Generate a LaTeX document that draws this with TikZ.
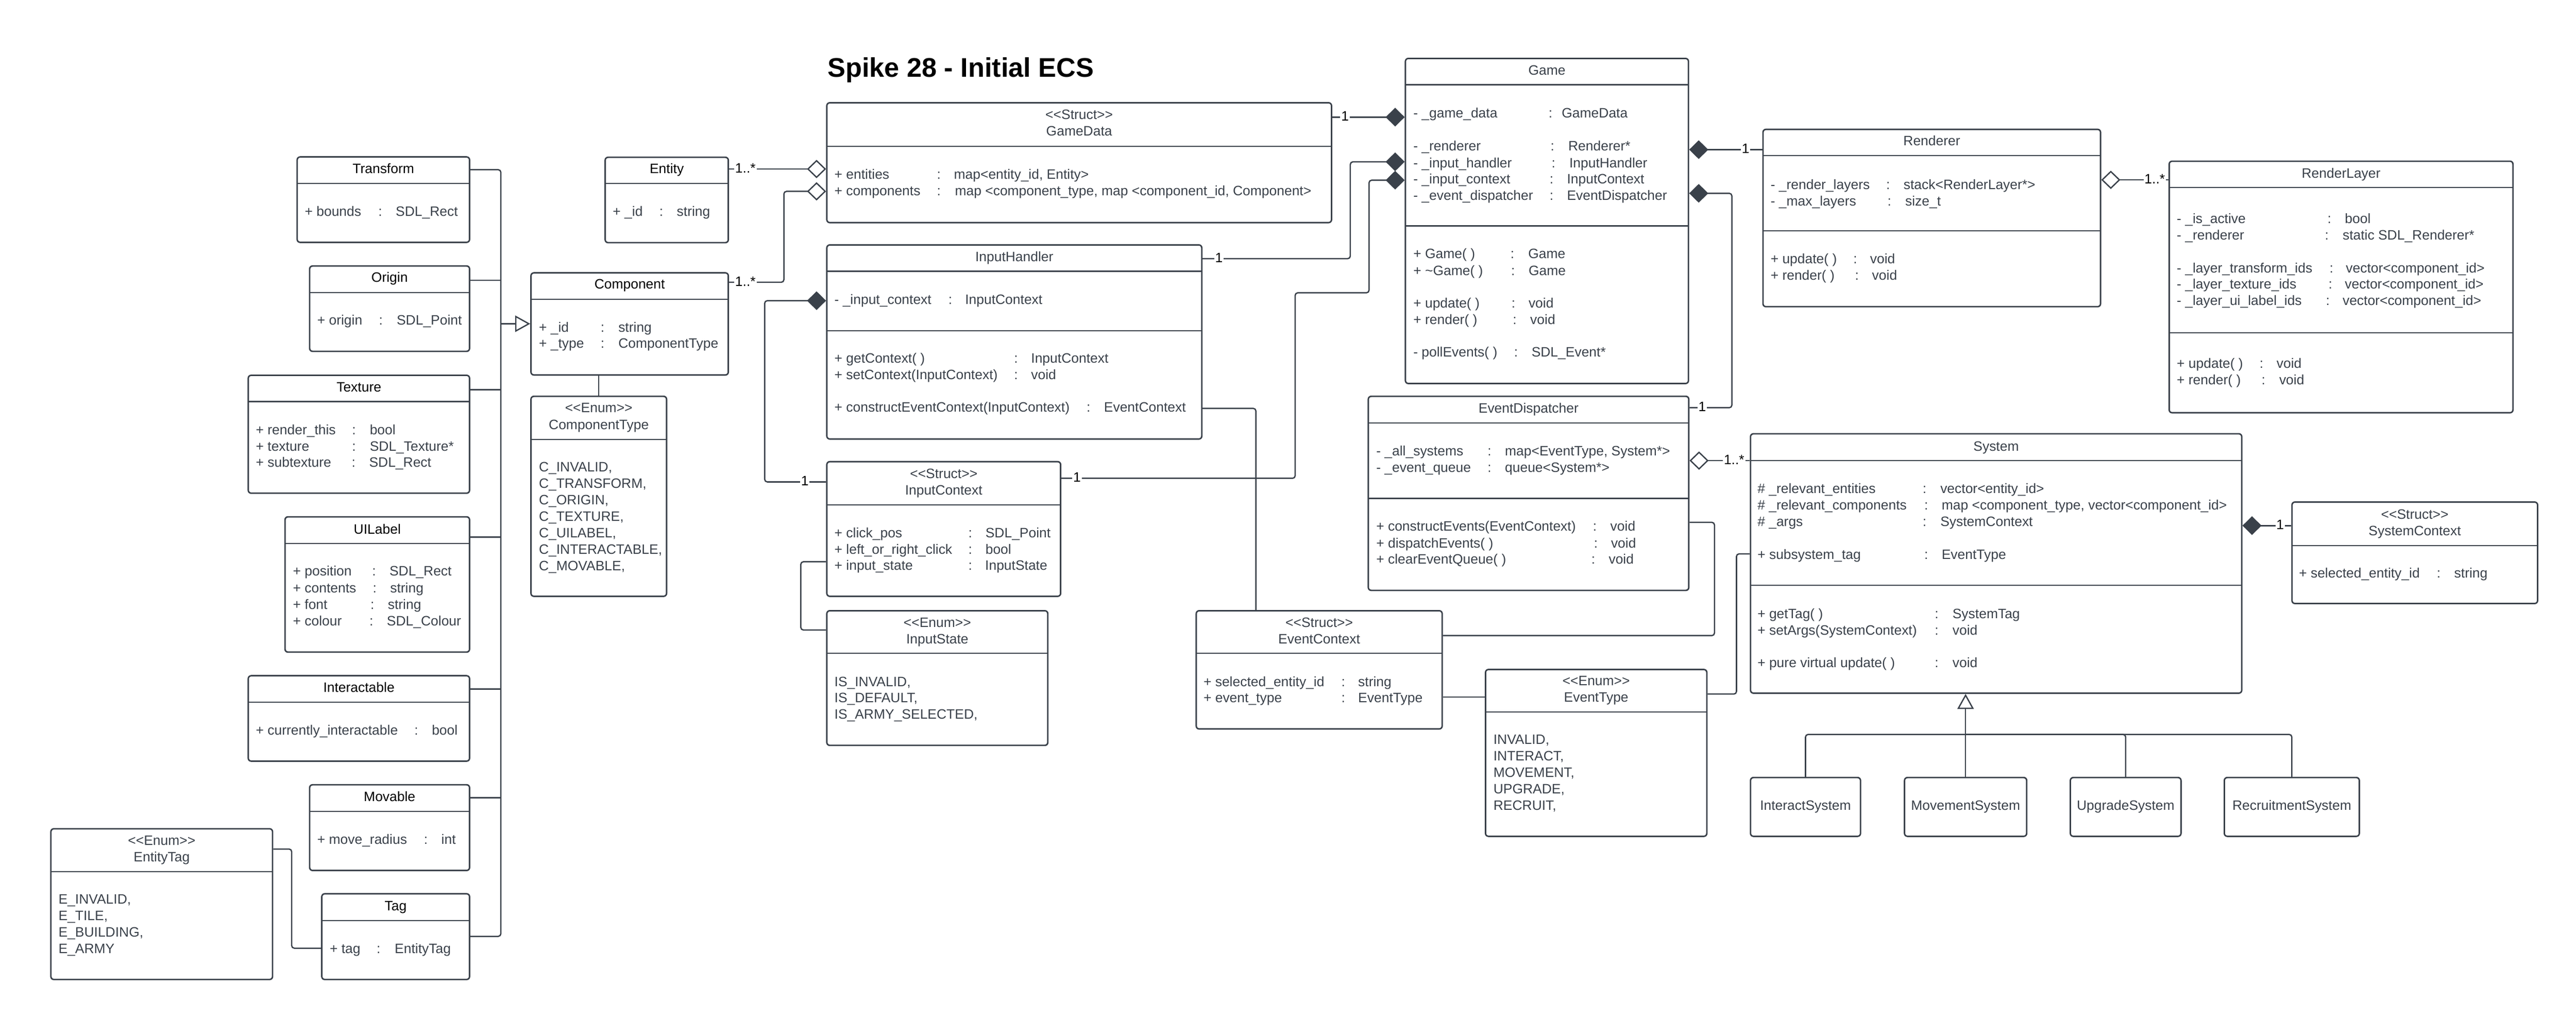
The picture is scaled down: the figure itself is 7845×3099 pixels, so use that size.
\documentclass[tikz,border=0pt]{standalone}
\usepackage{fontspec}
\newfontfamily\lfont{Liberation Sans}
\usetikzlibrary{fit,calc,arrows.meta}
\definecolor{lc}{HTML}{3A414A}
\newcommand\fs{\lfont\fontsize{41.5pt}{50pt}\selectfont}
\newcounter{tn}
\newcommand\clsT[3]{\stepcounter{tn}\node[ttl] (tt\arabic{tn}) at (#1,#2+15) {#3};}
\newcommand\clsK[3]{\stepcounter{tn}\node[ttl,text=black] (tt\arabic{tn}) at (#1,#2+15) {#3};}
\newcommand\clsL[3]{\stepcounter{tn}\node[txt] (tt\arabic{tn}) at (#1,#2+15) {#3};}
\newcommand\clsR[6]{\clsL{#2}{#1}{#3}\clsL{#4}{#1}{:}\clsL{#5}{#1}{#6}}
\newcommand\clsBox[5]{\node[box, fit={(#2,#3)(#4,#5)}] (#1) {};}
\newcommand\clsH[3]{\draw[sep] (#1,#3) -- (#2,#3);}
\newcommand\clsLbl[3]{\stepcounter{tn}\node[lbl] (tt\arabic{tn}) at (#1,#2+9) {#3};}
\tikzset{
  box/.style={draw=lc, line width=4.5pt, rounded corners=9pt, inner sep=0pt},
  sep/.style={draw=lc, line width=3.5pt},
  conn/.style={draw=lc, line width=4pt, rounded corners=8pt, line join=miter},
  txt/.style={anchor=base west, inner sep=0pt, font=\fs, text=lc},
  ttl/.style={anchor=base, inner sep=0pt, font=\fs, text=lc},
  lbl/.style={anchor=base, fill=white, inner sep=3pt, font=\fs, text=black},
  odia/.style={-{Diamond[open, length=58pt, width=56pt, line width=4pt]}},
  fdia/.style={-{Diamond[length=58pt, width=57pt]}},
  gen/.style={-{Triangle[open, length=46pt, width=50pt, line width=4pt]}}
}
\begin{document}
\begin{tikzpicture}[x=1pt,y=-1pt]
\useasboundingbox (0,0) rectangle (7845,3099);
\fill[white] (0,0) rectangle (7845,3099);

% title
\node[anchor=base west, inner sep=0pt, font=\lfont\bfseries\fontsize{82pt}{96pt}\selectfont, text=black] (title) at (2520,234) {Spike 28 - Initial ECS};

% ---------- boxes ----------
\clsBox{transform}{905}{478}{1430}{738}
\clsBox{origin}{943}{810}{1430}{1070}
\clsBox{texture}{756}{1143}{1430}{1502}
\clsBox{uilabel}{868}{1574}{1430}{1986}
\clsBox{interactable}{756}{2058}{1430}{2318}
\clsBox{movable}{943}{2390}{1430}{2651}
\clsBox{entitytag}{155}{2524}{830}{2983}
\clsBox{tag}{980}{2722}{1430}{2983}
\clsBox{entity}{1843}{479}{2218}{739}
\clsBox{component}{1617}{831}{2218}{1142}
\clsBox{comptype}{1617}{1207}{2030}{1816}
\clsBox{gamedata}{2518}{313}{4055}{678}
\clsBox{inputhandler}{2518}{746}{3660}{1337}
\clsBox{inputcontext}{2518}{1406}{3230}{1816}
\clsBox{inputstate}{2518}{1860}{3191}{2270}
\clsBox{eventcontext}{3643}{1860}{4392}{2220}
\clsBox{eventtype}{4524}{2039}{5198}{2547}
\clsBox{dispatcher}{4167}{1207}{5143}{1798}
\clsBox{game}{4280}{178}{5142}{1168}
\clsBox{renderer}{5369}{394}{6397}{934}
\clsBox{renderlayer}{6606}{491}{7653}{1257}
\clsBox{system}{5331}{1321}{6827}{2111}
\clsBox{sysctx}{6980}{1529}{7728}{1838}
\clsBox{isys}{5331}{2368}{5666}{2547}
\clsBox{msys}{5800}{2368}{6172}{2547}
\clsBox{usys}{6305}{2368}{6642}{2547}
\clsBox{rsys}{6774}{2368}{7185}{2547}

% ---------- separators ----------
\clsH{905}{1430}{559}
\clsH{943}{1430}{891}
\clsH{756}{1430}{1223}
\clsH{868}{1430}{1655}
\clsH{756}{1430}{2138}
\clsH{943}{1430}{2471}
\clsH{155}{830}{2655}
\clsH{980}{1430}{2804}
\clsH{1843}{2218}{558}
\clsH{1617}{2218}{911}
\clsH{1617}{2030}{1338}
\clsH{2518}{4055}{445}
\clsH{2518}{3660}{826}
\clsH{2518}{3660}{1007}
\clsH{2518}{3230}{1537}
\clsH{2518}{3191}{1990}
\clsH{3643}{4392}{1990}
\clsH{4524}{5198}{2168}
\clsH{4167}{5143}{1288}
\clsH{4167}{5143}{1518}
\clsH{4280}{5142}{258}
\clsH{4280}{5142}{688}
\clsH{5369}{6397}{474}
\clsH{5369}{6397}{703}
\clsH{6606}{7653}{571}
\clsH{6606}{7653}{1014}
\clsH{5331}{6827}{1403}
\clsH{5331}{6827}{1782}
\clsH{6980}{7728}{1661}

% ---------- titles ----------
\clsK{1167.5}{513}{Transform}
\clsK{1186.5}{844}{Origin}
\clsK{1093}{1178}{Texture}
\clsK{1149}{1611}{UILabel}
\clsK{1093}{2093}{Interactable}
\clsK{1186.5}{2425}{Movable}
\clsT{492.5}{2559}{<\kern0pt<Enum>\kern0pt>}
\clsT{492.5}{2609}{EntityTag}
\clsK{1205}{2758}{Tag}
\clsK{2030.5}{513}{Entity}
\clsK{1917.5}{865}{Component}
\clsT{1823.5}{1241}{<\kern0pt<Enum>\kern0pt>}
\clsT{1823.5}{1292}{ComponentType}
\clsT{3286.5}{348}{<\kern0pt<Struct>\kern0pt>}
\clsT{3286.5}{399}{GameData}
\clsT{3089}{782}{InputHandler}
\clsT{2874}{1442}{<\kern0pt<Struct>\kern0pt>}
\clsT{2874}{1492}{InputContext}
\clsT{2854.5}{1896}{<\kern0pt<Enum>\kern0pt>}
\clsT{2854.5}{1945}{InputState}
\clsT{4017.5}{1896}{<\kern0pt<Struct>\kern0pt>}
\clsT{4017.5}{1945}{EventContext}
\clsT{4861}{2073}{<\kern0pt<Enum>\kern0pt>}
\clsT{4861}{2123}{EventType}
\clsT{4655}{1242}{EventDispatcher}
\clsT{4711}{214}{Game}
\clsT{5883}{429}{Renderer}
\clsT{7129.5}{527}{RenderLayer}
\clsT{6079}{1359}{System}
\clsT{7354}{1566}{<\kern0pt<Struct>\kern0pt>}
\clsT{7354}{1616}{SystemContext}
\clsT{5498.5}{2453}{InteractSystem}
\clsT{5986}{2453}{MovementSystem}
\clsT{6473.5}{2453}{UpgradeSystem}
\clsT{6979.5}{2453}{RecruitmentSystem}

% ---------- attributes ----------
\clsR{643}{928}{+ bounds}{1152}{1205}{SDL\_Rect}
\clsR{975}{966}{+ origin}{1154}{1208}{SDL\_Point}
\clsR{1308}{779}{+ render\_this}{1072}{1126}{bool}
\clsR{1358}{779}{+ texture}{1072}{1126}{SDL\_Texture*}
\clsR{1408}{779}{+ subtexture}{1071}{1124}{SDL\_Rect}
\clsR{1739}{892}{+ position}{1133}{1186}{SDL\_Rect}
\clsR{1790}{892}{+ contents}{1135}{1188}{string}
\clsR{1840}{892}{+ font}{1128}{1181}{string}
\clsR{1890}{892}{+ colour}{1125}{1178}{SDL\_Colour}
\clsR{2223}{779}{+ currently\_interactable}{1262}{1315}{bool}
\clsR{2555}{966}{+ move\_radius}{1291}{1344}{int}
\clsR{2888}{1004}{+ tag}{1147}{1202}{EntityTag}
\clsL{178}{2738}{E\_INVALID,}
\clsL{178}{2788}{E\_TILE,}
\clsL{178}{2838}{E\_BUILDING,}
\clsL{178}{2888}{E\_ARMY}
\clsR{643}{1866}{+ \_id}{2008}{2061}{string}
\clsR{996}{1641}{+ \_id}{1829}{1883}{string}
\clsR{1045}{1641}{+ \_type}{1829}{1883}{ComponentType}
\clsL{1641}{1422}{C\_INVALID,}
\clsL{1641}{1472}{C\_TRANSFORM,}
\clsL{1641}{1522}{C\_ORIGIN,}
\clsL{1641}{1572}{C\_TEXTURE,}
\clsL{1641}{1622}{C\_UILABEL,}
\clsL{1641}{1672}{C\_INTERACTABLE,}
\clsL{1641}{1722}{C\_MOVABLE,}
\clsR{530}{2541}{+ entities}{2853}{2905}{map<entity\_id, Entity>}
\clsR{581}{2541}{+ components}{2853}{2908}{map <component\_type, map <component\_id, Component>}
\clsR{911}{2541}{- \_input\_context}{2888}{2939}{InputContext}
\clsR{1091}{2541}{+ getContext( )}{3088}{3140}{InputContext}
\clsR{1141}{2541}{+ setContext(InputContext)}{3088}{3140}{void}
\clsR{1240}{2541}{+ constructEventContext(InputContext)}{3309}{3362}{EventContext}
\clsR{1622}{2541}{+ click\_pos}{2949}{3001}{SDL\_Point}
\clsR{1672}{2541}{+ left\_or\_right\_click}{2949}{3001}{bool}
\clsR{1721}{2541}{+ input\_state}{2949}{3000}{InputState}
\clsL{2541}{2075}{IS\_INVALID,}
\clsL{2541}{2125}{IS\_DEFAULT,}
\clsL{2541}{2175}{IS\_ARMY\_SELECTED,}
\clsR{2075}{3665}{+ selected\_entity\_id}{4085}{4136}{string}
\clsR{2125}{3665}{+ event\_type}{4085}{4136}{EventType}
\clsL{4548}{2251}{INVALID,}
\clsL{4548}{2302}{INTERACT,}
\clsL{4548}{2352}{MOVEMENT,}
\clsL{4548}{2402}{UPGRADE,}
\clsL{4548}{2452}{RECRUIT,}
\clsR{1372}{4191}{- \_all\_systems}{4530}{4583}{map<EventType, System*>}
\clsR{1423}{4191}{- \_event\_queue}{4530}{4583}{queue<System*>}
\clsR{1602}{4191}{+ constructEvents(EventContext)}{4851}{4904}{void}
\clsR{1653}{4191}{+ dispatchEvents( )}{4854}{4906}{void}
\clsR{1703}{4191}{+ clearEventQueue( )}{4846}{4899}{void}
\clsR{344}{4304}{- \_game\_data}{4716}{4756}{GameData}
\clsR{444}{4304}{- \_renderer}{4722}{4776}{Renderer*}
\clsR{495}{4304}{- \_input\_handler}{4725}{4779}{InputHandler}
\clsR{544}{4304}{- \_input\_context}{4719}{4772}{InputContext}
\clsR{594}{4304}{- \_event\_dispatcher}{4719}{4772}{EventDispatcher}
\clsR{772}{4304}{+ Game( )}{4600}{4654}{Game}
\clsR{823}{4304}{+ \textasciitilde Game( )}{4602}{4655}{Game}
\clsR{923}{4304}{+ update( )}{4603}{4655}{void}
\clsR{972}{4304}{+ render( )}{4607}{4660}{void}
\clsR{1072}{4304}{- pollEvents( )}{4611}{4664}{SDL\_Event*}
\clsR{561}{5392}{- \_render\_layers}{5744}{5797}{stack<RenderLayer*>}
\clsR{612}{5392}{- \_max\_layers}{5748}{5802}{size\_t}
\clsR{787}{5392}{+ update( )}{5644}{5695}{void}
\clsR{838}{5392}{+ render( )}{5649}{5701}{void}
\clsR{665}{6629}{- \_is\_active}{7088}{7141}{bool}
\clsR{715}{6629}{- \_renderer}{7080}{7134}{static SDL\_Renderer*}
\clsR{815}{6629}{- \_layer\_transform\_ids}{7094}{7144}{vector<component\_id>}
\clsR{865}{6629}{- \_layer\_texture\_ids}{7091}{7141}{vector<component\_id>}
\clsR{915}{6629}{- \_layer\_ui\_label\_ids}{7083}{7134}{vector<component\_id>}
\clsR{1106}{6629}{+ update( )}{6881}{6933}{void}
\clsR{1156}{6629}{+ render( )}{6887}{6941}{void}
\clsR{1487}{5352}{\# \_relevant\_entities}{5855}{5909}{vector<entity\_id>}
\clsR{1538}{5352}{\# \_relevant\_components}{5860}{5913}{map <component\_type, vector<component\_id>}
\clsR{1588}{5352}{\# \_args}{5855}{5909}{SystemContext}
\clsR{1688}{5352}{+ subsystem\_tag}{5860}{5913}{EventType}
\clsR{1869}{5352}{+ getTag( )}{5892}{5946}{SystemTag}
\clsR{1918}{5352}{+ setArgs(SystemContext)}{5892}{5946}{void}
\clsR{2018}{5352}{+ pure virtual update( )}{5892}{5946}{void}
\clsR{1744}{7001}{+ selected\_entity\_id}{7421}{7474}{string}

% ---------- connectors ----------
% component bus
\coordinate (busmid) at (1523,986);
\draw[conn] ($(transform.north east)+(0,41)$) -| ($(tag.north east)+(93,132)$) -- ($(tag.north east)+(0,132)$);
\draw[conn] ($(origin.north east)+(0,46)$) -- ++(93,0);
\draw[conn] ($(texture.north east)+(0,46)$) -- ++(93,0);
\draw[conn] ($(uilabel.north east)+(0,64)$) -- ++(93,0);
\draw[conn] ($(interactable.north east)+(0,43)$) -- ++(93,0);
\draw[conn] ($(movable.north east)+(0,42)$) -- ++(93,0);
\draw[conn, gen] (busmid) -- (busmid -| component.west);
% EntityTag - Tag
\draw[conn] ($(entitytag.north east)+(0,64)$) -- ++(56,0) |- ($(tag.north west)+(0,168)$);
% Component - ComponentType
\draw[conn] (comptype.north |- component.south) -- (comptype.north);
% Entity, Component -> GameData
\draw[conn, odia] ($(entity.north east)+(0,38)$) -- ($(gamedata.north west)+(0,204)$);
\draw[conn, odia] ($(component.north east)+(0,31)$) -- ++(167,0) |- ($(gamedata.north west)+(0,272)$);
% GameData -> Game
\draw[conn, fdia] ($(gamedata.north east)+(0,46)$) -- ($(game.north west)+(0,181)$);
% InputHandler -> Game
\draw[conn, fdia] ($(inputhandler.north east)+(0,44)$) -- ++(450,0) |- ($(game.north west)+(0,317)$);
% InputContext -> Game
\draw[conn, fdia] ($(inputcontext.north east)+(0,53)$) -- ++(712,0) -- ++(0,-565) -- ++(225,0) |- ($(game.north west)+(0,373)$);
% InputContext -> InputHandler
\draw[conn, fdia] ($(inputcontext.north west)+(0,64)$) -- ++(-187,0) |- ($(inputhandler.north west)+(0,172)$);
% InputState - InputContext
\draw[conn] ($(inputstate.north west)+(0,61)$) -- ++(-77,0) |- ($(inputcontext.north west)+(0,307)$);
% InputHandler - EventContext
\draw[conn] ($(inputhandler.north east)+(0,500)$) -| ($(eventcontext.north west)+(184,0)$);
% Renderer -> Game
\draw[conn, fdia] ($(renderer.north west)+(0,64)$) -- ($(game.north east)+(0,280)$);
% RenderLayer -> Renderer
\draw[conn, odia] ($(renderlayer.north west)+(0,59)$) -- ($(renderer.north east)+(0,156)$);
% EventDispatcher -> Game
\draw[conn, fdia] ($(dispatcher.north east)+(0,37)$) -- ++(129,0) |- ($(game.north east)+(0,413)$);
% System -> EventDispatcher
\draw[conn, odia] ($(system.north west)+(0,84)$) -- ($(dispatcher.north east)+(0,198)$);
% EventDispatcher - EventContext
\draw[conn] ($(dispatcher.north east)+(0,386)$) -- ++(76,0) |- ($(eventcontext.north east)+(0,78)$);
% EventContext - EventType
\draw[conn] ($(eventcontext.north east)+(0,265)$) -- ($(eventtype.north west)+(0,86)$);
% EventType - System
\draw[conn] ($(eventtype.north east)+(0,77)$) -- ++(88,0) |- ($(system.north west)+(0,368)$);
% SystemContext -> System
\draw[conn, fdia] ($(sysctx.north west)+(0,74)$) -- ($(system.north east)+(0,282)$);
% subsystems
\coordinate (gbus) at ($(msys.north)+(0,-129)$);
\draw[conn, gen] (gbus) -- (gbus |- system.south);
\draw[conn] (msys.north) -- (gbus);
\draw[conn] (isys.north) |- (gbus);
\draw[conn] (usys.north) |- (gbus);
\draw[conn] (rsys.north) |- (gbus);

% ---------- multiplicities ----------
\clsLbl{2270}{517}{1..*}
\clsLbl{2270}{862}{1..*}
\clsLbl{4096}{359}{1}
\clsLbl{3712}{790}{1}
\clsLbl{3280}{1459}{1}
\clsLbl{2451}{1470}{1}
\clsLbl{5316}{458}{1}
\clsLbl{6562}{550}{1..*}
\clsLbl{5184}{1244}{1}
\clsLbl{5281}{1405}{1..*}
\clsLbl{6944}{1603}{1}
\end{tikzpicture}
\end{document}
